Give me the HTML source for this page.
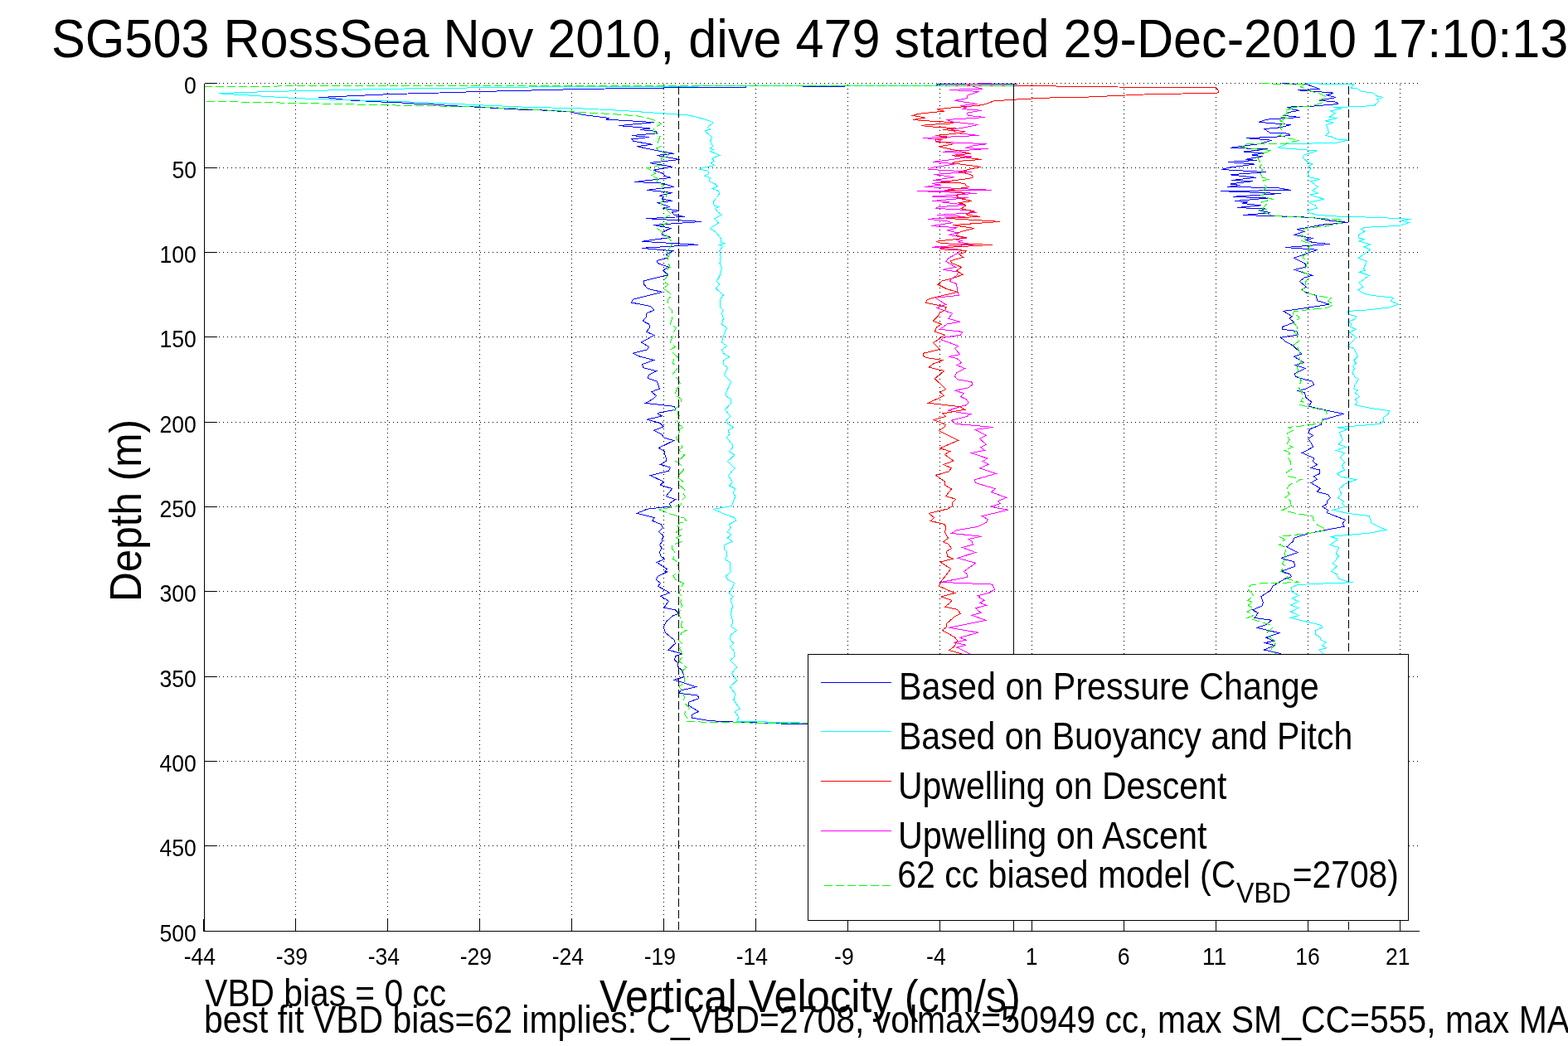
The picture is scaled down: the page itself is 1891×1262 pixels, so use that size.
<!DOCTYPE html>
<html lang="en">
<head>
<meta charset="utf-8">
<title>SG503 RossSea Nov 2010, dive 479</title>
<style>
html,body{margin:0;padding:0;background:#fff;}
body{width:1891px;height:1262px;overflow:hidden;}
svg{display:block;}
text{font-family:"Liberation Sans",Arial,Helvetica,sans-serif;fill:#000;}
.ax{stroke:#000;stroke-width:1;fill:none;shape-rendering:crispEdges;}
.grid{stroke:#000;stroke-width:1;fill:none;stroke-dasharray:1 4;stroke-dashoffset:3;shape-rendering:crispEdges;}
.gv{stroke-dasharray:1 4.006;stroke-dashoffset:3.256;}
.ln{fill:none;stroke-width:1;stroke-linejoin:miter;shape-rendering:crispEdges;}
</style>
</head>
<body>
<svg width="1891" height="1262" viewBox="0 0 1891 1262">
<rect x="0" y="0" width="1891" height="1262" fill="#fff"/>

<g id="grid"><line class="grid gv" x1="356.5" y1="100" x2="356.5" y2="1123.5"/>
<line class="grid gv" x1="467.5" y1="100" x2="467.5" y2="1123.5"/>
<line class="grid gv" x1="578.5" y1="100" x2="578.5" y2="1123.5"/>
<line class="grid gv" x1="689.5" y1="100" x2="689.5" y2="1123.5"/>
<line class="grid gv" x1="800.5" y1="100" x2="800.5" y2="1123.5"/>
<line class="grid gv" x1="911.5" y1="100" x2="911.5" y2="1123.5"/>
<line class="grid gv" x1="1022.5" y1="100" x2="1022.5" y2="1123.5"/>
<line class="grid gv" x1="1133.5" y1="100" x2="1133.5" y2="1123.5"/>
<line class="grid gv" x1="1244.5" y1="100" x2="1244.5" y2="1123.5"/>
<line class="grid gv" x1="1355.5" y1="100" x2="1355.5" y2="1123.5"/>
<line class="grid gv" x1="1466.5" y1="100" x2="1466.5" y2="1123.5"/>
<line class="grid gv" x1="1577.5" y1="100" x2="1577.5" y2="1123.5"/>
<line class="grid gv" x1="1688.5" y1="100" x2="1688.5" y2="1123.5"/>
<line class="grid" x1="247" y1="100.5" x2="1711.5" y2="100.5"/>
<line class="grid" x1="247" y1="202.5" x2="1711.5" y2="202.5"/>
<line class="grid" x1="247" y1="304.5" x2="1711.5" y2="304.5"/>
<line class="grid" x1="247" y1="406.5" x2="1711.5" y2="406.5"/>
<line class="grid" x1="247" y1="509.5" x2="1711.5" y2="509.5"/>
<line class="grid" x1="247" y1="611.5" x2="1711.5" y2="611.5"/>
<line class="grid" x1="247" y1="713.5" x2="1711.5" y2="713.5"/>
<line class="grid" x1="247" y1="816.5" x2="1711.5" y2="816.5"/>
<line class="grid" x1="247" y1="918.5" x2="1711.5" y2="918.5"/>
<line class="grid" x1="247" y1="1020.5" x2="1711.5" y2="1020.5"/></g>
<defs><clipPath id="pc"><rect x="246" y="100" width="1466" height="1024"/></clipPath></defs>
<g id="curves" clip-path="url(#pc)">
<path class="ln" stroke="#0000ff" d="M1227.0 101.5L1131.0 101.5L1129.0 103.5L1018.0 103.5L1018.0 104.5L968.0 104.5L968.0 103.5L899.0 103.5L899.0 105.5L800.0 105.5L800.0 106.5L730.0 107.0L690.0 107.7L650.0 108.8L578.0 110.5L530.0 112.0L472.7 113.5L447.0 114.7L422.0 115.8L396.0 117.0L383.8 117.3L396.5 117.9L411.0 119.8L424.0 121.1L438.8 121.9L460.0 123.0L479.0 123.6L500.0 125.1L519.0 125.7L538.0 127.2L557.0 128.3L574.0 129.1L591.0 130.0L608.0 131.0L627.0 132.1L640.0 132.2L687.6 134.9L703.5 138.6L735.2 142.5L731.2 144.1L789.1 147.6L746.3 151.6L784.4 154.9L771.7 156.5L791.5 158.4L792.3 160.8L762.2 163.5L782.8 165.5L762.2 167.9L763.7 170.3L786.7 174.3L767.7 176.6L798.6 183.0L812.9 185.4L792.3 187.4L819.7 192.5L783.6 196.5L810.5 201.2L788.3 205.2L800.2 209.6L801.8 212.3L809.0 214.4L765.3 219.5L798.6 221.1L812.9 225.5L780.4 229.3L811.0 232.5L795.5 236.1L800.2 237.7L798.6 240.1L811.0 242.5L792.3 244.5L808.2 249.6L798.6 251.2L819.0 254.4L810.5 256.0L812.9 259.1L825.6 261.5L779.3 263.6L846.2 267.4L788.3 271.5L809.0 275.3L798.6 280.5L798.6 283.7L809.0 286.4L774.1 291.3L842.0 295.3L774.1 299.3L811.0 302.8L803.4 306.7L805.8 309.9L805.8 310.8L792.3 314.6L793.1 317.5L806.6 322.2L799.4 326.2L805.8 331.7L776.4 338.9L776.4 342.8L781.2 348.4L798.6 352.4L763.7 361.1L761.4 365.0L784.4 369.5L789.1 374.1L779.6 378.1L779.3 382.5L775.3 387.3L782.8 391.2L783.6 395.2L779.6 400.3L789.1 404.4L773.3 413.1L782.5 418.2L780.4 421.8L763.4 426.3L771.7 430.1L788.3 434.5L774.8 439.6L775.3 443.6L791.5 447.5L782.8 452.3L781.2 456.3L792.3 460.2L795.5 469.0L785.6 472.9L791.5 477.4L787.5 481.3L778.5 486.4L813.7 490.4L814.5 494.3L793.1 498.3L793.9 499.9L798.6 501.9L780.4 506.2L796.3 510.6L800.5 514.9L788.3 519.3L797.9 524.1L801.0 528.1L812.6 531.6L794.4 540.4L801.3 544.4L801.8 548.7L803.4 553.5L803.1 556.6L796.3 560.3L808.6 564.2L806.6 568.1L784.4 573.6L800.2 581.2L796.3 585.2L810.5 589.5L803.4 598.7L814.5 602.6L807.4 607.4L808.6 610.9L780.4 614.2L768.2 619.3L789.1 624.5L786.7 628.3L797.1 632.5L799.4 636.7L794.4 641.5L799.4 645.9L798.6 653.4L795.5 657.4L798.2 661.3L795.5 665.8L797.1 671.6L801.5 674.3L792.3 678.5L804.5 686.7L801.0 689.9L804.7 690.0L793.6 695.1L791.2 699.4L796.5 703.5L793.6 707.3L807.6 715.2L796.5 719.3L806.6 725.2L800.7 733.1L814.2 735.8L818.7 740.3L810.3 743.5L803.1 750.6L800.3 756.9L802.3 763.3L813.0 772.0L814.5 776.3L806.0 784.2L822.2 788.7L814.5 791.8L813.4 796.1L817.7 799.8L817.4 804.5L822.2 808.5L825.3 816.4L813.4 820.4L839.6 828.7L820.6 833.1L819.3 836.3L841.5 839.1L842.8 842.6L830.1 847.4L830.9 851.3L842.5 858.5L834.1 862.4L834.8 866.1L855.5 869.6L880.9 870.9L947.5 873.2L974.5 873.2L1221.9 873.2"/>
<path class="ln" stroke="#0000ff" d="M1546.3 100.9L1574.8 101.3L1591.5 107.4L1565.3 108.8L1608.2 112.1L1600.2 114.8L1611.3 117.5L1591.5 121.2L1612.1 123.2L1613.7 125.5L1578.0 128.6L1552.6 129.1L1557.4 131.8L1566.9 133.4L1554.2 135.5L1547.9 139.4L1567.7 141.5L1527.3 144.2L1518.5 147.4L1556.6 150.5L1544.7 153.7L1524.9 155.6L1531.2 160.0L1554.2 161.2L1555.5 163.5L1536.8 165.3L1502.7 166.7L1533.6 169.2L1519.3 173.5L1501.9 175.9L1483.6 178.3L1528.8 179.9L1500.3 183.0L1524.1 185.1L1509.8 187.0L1523.3 188.6L1501.9 192.3L1516.2 193.4L1481.2 195.4L1513.0 198.1L1482.8 202.1L1473.3 204.5L1526.5 207.6L1483.6 210.8L1514.6 214.3L1485.2 217.5L1510.6 218.7L1483.6 221.9L1495.5 223.5L1480.5 225.4L1541.5 226.7L1556.6 229.5L1471.7 230.6L1544.7 233.5L1486.8 237.3L1528.8 239.1L1489.2 242.5L1505.0 243.7L1497.9 245.4L1520.9 247.8L1491.6 250.5L1528.0 252.1L1518.5 253.6L1532.0 256.8L1499.5 259.5L1538.4 260.8L1566.9 261.6L1589.1 263.2L1605.0 266.3L1625.6 268.4L1595.5 271.1L1578.0 274.3L1563.7 276.6L1573.3 279.3L1560.6 283.5L1583.6 287.4L1574.8 289.3L1582.8 292.5L1603.4 294.6L1603.4 294.5L1550.3 298.5L1589.1 301.3L1560.6 311.2L1574.1 318.3L1574.1 322.3L1561.4 325.5L1582.8 332.3L1573.3 335.0L1567.4 339.4L1575.3 346.1L1569.3 349.7L1576.4 353.5L1587.5 356.4L1588.3 362.7L1603.4 367.2L1570.1 372.3L1547.6 375.4L1558.2 381.5L1555.0 384.2L1560.6 388.9L1546.3 394.5L1546.3 397.3L1563.7 399.5L1565.3 404.0L1544.7 407.2L1551.1 412.7L1559.0 416.7L1570.1 427.0L1560.6 430.2L1572.5 437.6L1562.2 440.5L1574.5 444.4L1561.4 450.8L1562.2 454.0L1566.9 456.0L1582.8 460.3L1584.7 464.0L1574.8 469.0L1565.3 471.4L1573.3 473.8L1574.8 479.3L1581.2 484.6L1582.0 485.0L1578.0 490.1L1600.2 495.3L1620.9 499.3L1594.7 506.7L1593.1 512.3L1579.6 517.8L1578.0 522.6L1583.6 525.4L1577.7 529.4L1581.2 534.5L1583.6 539.3L1570.4 546.4L1584.4 552.7L1583.6 556.7L1588.3 560.7L1581.2 564.6L1591.5 567.0L1591.5 571.5L1584.4 574.9L1588.3 578.1L1581.2 582.6L1592.3 589.2L1588.3 593.2L1601.8 596.8L1604.2 600.6L1600.2 605.1L1600.2 607.9L1594.7 611.4L1601.8 615.4L1600.2 618.6L1622.4 627.3L1619.3 631.3L1620.9 635.2L1579.6 643.2L1560.6 649.0L1559.0 653.5L1551.8 659.8L1565.3 666.5L1545.5 673.3L1549.5 674.9L1560.6 677.7L1561.8 683.2L1545.5 689.3L1555.8 692.8L1557.4 695.9L1549.5 698.3L1535.2 707.0L1532.0 712.6L1520.9 719.7L1523.3 726.9L1522.5 730.8L1510.6 735.9L1517.3 739.6L1513.0 745.4L1533.6 748.3L1526.5 753.8L1516.2 757.5L1542.8 763.7L1526.5 769.2L1536.0 773.2L1526.0 775.6L1537.6 778.9L1524.1 784.0L1543.9 788.4L1535.2 791.9"/>
<path class="ln" stroke="#00ffff" d="M1222.0 103.5L900.0 103.8L700.0 104.5L637.7 105.0L578.4 105.8L466.0 107.3L405.0 108.8L324.6 110.5L282.0 112.0L263.9 112.6L271.7 113.5L295.0 114.7L341.5 117.7L375.4 119.4L466.3 121.9L508.6 123.6L578.4 126.8L640.0 129.5L695.5 130.6L751.1 133.5L798.6 136.7L818.5 138.2L830.4 139.0L844.7 142.5L855.8 145.7L860.0 148.1L853.4 153.6L856.6 156.0L850.2 158.1L858.9 165.5L856.6 170.3L859.7 176.6L855.8 179.0L859.7 180.6L856.6 183.0L861.3 184.2L867.7 187.3L858.9 190.9L861.3 194.1L857.3 196.9L861.6 199.6L846.2 202.8L844.2 204.4L853.4 206.0L855.0 209.2L850.2 212.3L856.6 214.7L855.0 218.7L862.1 221.8L865.3 225.0L858.9 227.4L865.3 229.8L868.0 233.0L864.5 238.5L860.2 243.3L861.3 248.0L866.9 249.6L862.1 251.2L866.1 256.0L870.4 259.1L862.1 263.6L866.5 269.1L856.2 275.3L863.7 280.5L869.2 287.7L870.0 292.4L873.7 293.6L867.7 295.6L871.6 297.2L867.7 302.8L869.2 309.9L868.0 317.5L870.4 323.0L868.5 331.7L864.5 339.3L867.7 343.2L863.4 348.1L872.4 356.0L868.5 361.9L868.5 370.6L872.4 374.6L870.4 378.5L872.4 384.1L870.4 391.2L876.7 395.5L873.2 403.1L870.4 413.0L876.7 417.4L870.4 422.2L873.2 426.9L879.6 430.4L872.4 434.8L872.4 439.6L877.7 443.6L873.2 452.3L881.6 460.7L875.3 474.5L875.3 477.7L881.6 481.3L881.6 486.4L874.5 494.3L878.8 499.9L880.8 501.9L876.4 507.1L878.0 511.4L884.6 515.4L878.0 519.3L879.9 523.3L876.4 528.1L883.5 536.8L883.5 540.0L879.6 544.7L885.9 549.0L877.5 556.6L885.9 564.6L878.3 574.1L883.5 581.7L879.6 586.0L886.7 589.6L884.3 594.7L886.7 598.7L882.3 610.6L860.5 614.2L873.2 620.1L885.9 624.5L887.5 628.3L879.6 632.5L881.1 636.7L877.5 642.0L881.6 645.2L877.5 649.1L883.5 653.4L873.2 657.4L874.0 662.9L876.7 665.8L876.4 671.6L874.5 674.8L880.8 678.5L880.8 687.5L881.6 689.9L881.3 690.0L875.3 695.1L877.7 699.4L885.6 703.5L883.2 709.3L879.3 715.7L884.0 719.7L881.3 723.6L883.7 730.8L881.3 740.3L883.7 749.8L882.4 756.6L888.5 760.4L881.6 765.7L880.4 771.2L884.8 776.5L880.4 780.3L884.8 784.4L885.9 792.6L880.4 796.6L888.8 804.5L882.4 812.5L888.8 820.9L880.4 828.7L886.9 837.1L884.8 844.2L892.4 855.3L886.4 858.5L890.9 865.3L888.8 870.4L953.8 871.5L974.5 872.4L1221.9 872.4"/>
<path class="ln" stroke="#00ffff" d="M1574.8 100.9L1632.8 101.3L1629.6 106.1L1636.7 106.9L1641.5 110.1L1655.8 112.1L1659.7 115.6L1668.0 117.5L1660.5 119.6L1662.9 122.3L1657.3 127.2L1644.7 128.3L1608.2 129.6L1617.7 131.2L1605.0 133.9L1610.5 136.6L1603.4 141.0L1612.6 142.6L1598.6 145.8L1608.2 148.1L1599.4 150.5L1601.0 155.3L1602.6 160.0L1598.6 163.5L1605.0 164.8L1612.9 168.0L1625.9 169.2L1611.3 172.3L1579.6 173.1L1551.1 174.0L1541.5 178.0L1551.1 179.1L1588.3 181.8L1581.2 184.6L1573.3 186.7L1571.4 190.2L1578.0 196.5L1582.8 198.1L1578.0 200.5L1581.2 202.9L1577.2 209.2L1579.6 214.0L1591.5 216.4L1580.4 218.7L1589.1 225.4L1582.8 229.8L1589.1 233.3L1579.6 234.9L1596.3 240.2L1578.8 244.4L1586.7 248.1L1588.3 251.3L1576.8 254.1L1579.6 256.8L1587.5 259.2L1612.9 261.1L1662.1 262.4L1701.8 264.4L1689.1 266.3L1699.4 268.4L1687.5 272.4L1646.2 274.3L1640.7 276.6L1646.2 279.0L1638.3 283.8L1639.1 287.0L1645.4 288.9L1639.1 290.9L1652.6 294.9L1652.6 295.0L1644.7 297.7L1652.6 301.3L1638.3 311.2L1648.1 315.1L1644.7 323.9L1646.2 326.2L1639.1 328.2L1651.3 332.3L1639.1 341.3L1644.2 346.1L1637.5 349.7L1644.7 354.0L1654.2 356.4L1681.1 359.2L1677.2 363.1L1686.7 367.2L1674.8 371.0L1651.0 373.8L1625.6 375.4L1626.4 379.4L1635.6 381.5L1634.3 384.9L1625.6 388.4L1629.6 390.5L1628.8 394.5L1635.6 397.3L1627.2 400.8L1635.6 407.2L1625.6 417.5L1632.8 420.6L1637.5 430.2L1632.8 434.9L1635.5 438.1L1631.5 441.3L1633.5 444.4L1631.2 450.0L1634.3 455.5L1638.6 457.1L1633.5 465.1L1632.8 469.0L1637.5 470.9L1634.3 473.8L1639.6 478.5L1634.3 481.7L1636.7 484.6L1636.7 485.0L1634.3 488.5L1651.0 492.1L1675.6 495.6L1674.0 499.6L1668.5 503.6L1668.5 508.3L1663.7 511.5L1625.6 514.7L1612.9 515.9L1625.6 517.8L1615.3 521.8L1619.3 530.5L1614.5 536.1L1623.2 539.3L1611.3 543.5L1621.6 546.4L1616.1 551.9L1621.6 557.5L1618.5 562.3L1621.6 567.0L1612.6 571.5L1617.7 575.3L1635.5 578.6L1620.9 584.5L1615.3 590.0L1617.7 596.4L1613.4 600.3L1620.9 605.1L1618.5 607.5L1622.4 611.1L1608.2 615.4L1625.6 619.4L1651.0 622.5L1654.2 631.3L1671.6 639.5L1651.0 643.2L1604.2 647.4L1613.7 650.3L1604.2 657.4L1614.5 660.6L1611.3 667.8L1614.5 670.9L1611.3 674.6L1612.1 675.0L1607.4 679.8L1612.1 683.6L1605.5 689.3L1612.1 692.8L1614.5 698.3L1625.6 701.8L1632.0 702.6L1598.6 703.9L1565.3 705.5L1557.4 708.6L1557.4 713.4L1566.1 718.5L1558.2 722.1L1566.1 725.6L1556.6 730.0L1566.1 733.5L1556.6 738.0L1566.1 742.7L1556.6 745.4L1579.6 751.0L1593.1 754.2L1594.7 757.0L1586.0 761.0L1586.0 764.9L1592.3 769.2L1593.1 772.1L1599.4 774.9L1594.7 778.9L1599.4 781.9L1590.7 784.0L1595.5 788.4L1598.6 791.9"/>
<path class="ln" stroke="#ff00ff" d="M1195.8 100.7L1165.3 101.3L1174.2 104.5L1185.0 107.3L1145.0 108.3L1180.6 110.5L1166.0 115.3L1166.6 118.5L1151.4 121.4L1178.7 125.5L1157.7 127.7L1165.3 129.9L1160.3 131.6L1183.7 133.3L1166.0 136.2L1167.9 139.4L1187.9 141.6L1141.2 144.5L1148.8 147.0L1179.9 150.5L1165.3 153.4L1147.6 156.6L1153.9 160.6L1180.6 163.5L1113.3 166.5L1136.2 168.6L1131.1 171.2L1189.8 173.7L1171.7 176.2L1164.1 178.8L1192.0 179.4L1137.4 183.2L1170.4 185.4L1152.6 187.0L1171.7 188.9L1147.6 192.5L1125.4 195.3L1152.6 197.8L1122.2 202.6L1120.3 204.4L1171.7 207.3L1126.0 210.5L1151.4 213.7L1125.4 217.5L1148.8 218.7L1124.1 221.5L1134.9 223.2L1114.6 225.5L1195.8 229.3L1106.3 230.5L1178.0 233.3L1124.1 237.1L1167.9 238.7L1124.1 242.5L1145.0 243.5L1137.4 244.1L1165.3 247.3L1131.1 249.8L1129.2 251.4L1169.1 253.6L1174.2 254.9L1169.1 255.1L1178.0 256.3L1130.4 259.5L1164.1 261.4L1119.0 264.3L1141.2 266.5L1148.8 268.7L1123.1 272.6L1154.6 274.7L1142.5 277.9L1155.2 281.1L1144.4 283.3L1156.5 285.5L1166.0 287.1L1151.4 288.7L1159.0 290.6L1155.8 291.9L1174.2 295.1L1124.1 298.2L1159.6 301.4L1155.2 305.2L1143.8 311.6L1140.6 315.4L1152.6 322.3L1137.2 325.5L1155.8 328.1L1153.9 332.5L1147.6 336.3L1145.3 339.5L1153.7 342.4L1154.6 351.5L1156.7 356.4L1127.9 359.1L1140.6 367.4L1134.9 369.3L1130.4 371.6L1148.5 378.2L1143.8 384.3L1157.7 388.3L1142.5 390.9L1133.6 397.2L1160.9 400.4L1158.4 404.2L1137.4 407.4L1134.9 409.9L1155.8 417.3L1151.6 420.2L1157.7 427.6L1144.4 430.4L1153.9 432.3L1159.6 437.4L1153.9 440.5L1163.8 444.6L1153.9 449.4L1151.4 453.9L1154.6 457.7L1171.7 460.8L1173.0 464.0L1167.9 467.8L1151.4 471.3L1162.5 474.4L1158.7 478.6L1165.3 481.8L1167.9 485.6L1165.3 488.8L1157.7 490.7L1143.1 495.4L1160.3 498.3L1170.8 499.6L1165.3 502.7L1147.6 507.2L1152.6 511.4L1197.7 515.4L1176.1 518.3L1189.5 525.2L1181.6 529.4L1189.5 536.4L1182.5 539.8L1187.6 543.3L1171.4 546.5L1190.7 553.1L1185.0 556.7L1192.6 560.1L1181.8 564.9L1201.5 571.4L1175.5 578.7L1176.5 582.6L1200.6 589.8L1195.5 593.6L1213.6 600.4L1203.7 604.4L1206.6 607.6L1194.3 611.4L1215.9 615.2L1184.4 622.6L1191.4 626.6L1189.5 630.4L1179.3 635.5L1153.3 639.7L1147.6 643.4L1183.7 647.3L1167.9 650.5L1172.3 653.3L1173.3 657.1L1160.3 660.5L1176.5 666.4L1155.4 673.3L1176.5 679.3L1162.5 689.5L1166.0 692.6L1166.4 696.4L1134.9 702.4L1196.8 705.1L1199.6 711.0L1193.3 715.1L1179.3 718.6L1181.8 719.9L1179.9 720.0L1186.9 724.3L1181.6 727.2L1189.5 730.4L1176.5 733.8L1183.1 739.5L1172.3 742.3L1188.6 748.4L1144.4 757.3L1179.7 763.2L1157.7 769.3L1165.3 772.2L1150.4 775.3L1164.7 778.2L1153.7 781.1L1169.8 788.7L1174.2 791.5"/>
<path class="ln" stroke="#ff0000" d="M1140.0 103.5L1222.5 103.5L1273.2 103.5L1274.5 104.5L1466.1 105.8L1468.9 108.3L1469.3 111.5L1467.4 112.1L1379.8 114.0L1300.0 117.6L1270.7 117.8L1250.4 118.7L1230.1 119.7L1211.0 121.0L1199.6 121.4L1188.2 125.8L1179.3 127.4L1164.1 128.6L1147.6 129.9L1130.4 131.8L1138.7 134.3L1123.5 135.6L1107.0 137.5L1101.2 139.4L1115.8 142.2L1101.2 144.5L1110.8 145.4L1127.3 146.4L1150.1 147.7L1147.6 148.9L1119.7 150.5L1111.4 151.5L1119.7 152.7L1152.6 154.7L1137.4 156.6L1163.4 158.5L1162.2 159.7L1148.8 161.6L1128.5 163.5L1141.2 164.8L1141.2 166.1L1127.9 168.0L1128.5 170.5L1138.7 171.8L1145.0 172.4L1150.1 173.7L1132.3 176.9L1171.1 185.4L1147.6 187.4L1161.5 189.6L1183.7 192.5L1161.5 194.0L1147.6 196.5L1182.5 201.4L1169.1 204.1L1157.7 207.3L1165.3 209.2L1171.7 211.1L1173.6 213.7L1167.9 215.6L1151.4 217.5L1133.6 220.0L1156.5 220.6L1164.1 221.9L1165.3 224.5L1169.1 225.7L1138.7 229.5L1160.9 232.1L1162.8 233.3L1152.6 235.9L1159.0 239.7L1172.3 242.5L1155.2 244.8L1161.5 245.4L1164.7 247.9L1159.0 251.7L1174.2 254.9L1174.2 255.1L1165.3 258.9L1181.8 261.4L1141.2 263.3L1206.0 267.4L1148.8 271.6L1174.9 275.4L1155.8 280.5L1153.3 284.3L1166.0 286.8L1151.4 288.7L1129.2 291.2L1136.2 293.8L1197.1 295.3L1134.9 298.9L1134.9 300.8L1165.3 302.3L1164.1 304.3L1156.5 306.5L1161.5 310.3L1146.3 314.7L1147.6 317.3L1159.6 322.3L1153.3 326.8L1161.5 331.2L1147.6 336.3L1136.2 338.8L1131.1 343.3L1141.2 348.4L1154.6 352.5L1128.5 358.5L1118.4 361.4L1116.5 365.2L1133.6 368.7L1141.2 370.6L1140.0 374.1L1133.6 376.9L1131.1 381.4L1125.4 387.3L1135.5 391.1L1129.8 394.7L1127.3 400.0L1139.3 404.2L1131.1 409.9L1131.1 410.1L1125.4 413.6L1133.6 421.5L1113.3 426.3L1113.9 429.7L1117.7 431.7L1137.4 434.6L1125.4 439.0L1120.3 443.1L1138.7 447.5L1127.3 456.7L1140.6 469.7L1133.6 473.3L1138.7 477.3L1119.4 486.2L1157.7 490.7L1163.4 494.2L1136.8 498.9L1140.6 502.5L1126.0 506.5L1140.6 512.2L1138.7 515.4L1132.3 519.6L1155.8 531.3L1133.6 540.8L1145.7 544.6L1139.3 548.4L1149.9 556.0L1138.1 560.5L1147.6 564.9L1146.9 565.1L1144.4 568.9L1128.5 573.3L1139.3 580.9L1139.7 585.4L1147.6 589.8L1140.6 598.5L1152.6 602.3L1148.6 606.3L1148.2 610.8L1143.1 613.9L1120.3 619.4L1126.6 624.7L1122.2 628.5L1139.3 632.6L1140.6 636.2L1139.7 642.5L1143.5 649.5L1137.4 653.7L1143.8 656.5L1147.6 661.5L1141.6 665.1L1142.5 671.1L1149.5 674.2L1133.9 678.0L1146.7 686.3L1142.5 692.0L1134.9 701.5L1132.3 707.2L1151.4 715.5L1134.9 719.9L1135.5 720.0L1147.6 724.3L1146.3 726.8L1139.7 732.1L1154.6 735.4L1158.4 740.5L1151.4 743.9L1141.9 752.2L1141.2 756.6L1136.5 760.4L1151.4 768.7L1154.6 773.1L1150.7 780.1L1144.7 784.6L1159.6 788.7L1161.5 791.5"/>
<path class="ln" stroke="#00ff00" stroke-dasharray="10 4" d="M1222.0 103.5L640.0 103.5L430.0 103.8L246.0 104.2L150.0 108.0L120.0 113.0L150.0 118.0L246.0 122.1L371.0 124.7L466.0 126.8L578.0 128.9L640.0 131.9L687.6 134.6L741.5 137.8L770.1 140.1L784.4 143.3L793.9 146.8L797.1 149.3L789.1 154.9L787.5 158.4L796.3 164.7L793.1 171.9L797.1 176.6L791.5 179.0L806.6 187.7L797.1 190.9L798.6 198.8L780.4 202.8L790.7 209.2L784.4 212.3L792.3 214.7L792.3 219.5L800.2 223.4L797.1 228.2L805.0 233.0L801.8 240.1L796.3 244.8L804.2 252.8L809.8 259.1L800.2 263.1L804.2 269.1L792.3 275.3L805.0 285.3L811.3 293.2L808.2 298.8L805.0 302.8L808.2 305.9L805.8 309.9L805.8 311.1L805.8 316.7L808.2 322.2L803.4 326.2L805.8 331.7L800.2 339.3L805.8 343.2L800.2 348.1L805.0 351.6L810.5 356.0L805.0 361.9L805.8 369.8L810.5 374.6L810.5 384.1L808.2 391.7L815.3 395.2L812.1 401.5L810.5 407.9L808.2 413.0L811.3 415.5L814.5 418.5L808.2 421.8L810.5 424.5L814.5 428.5L817.7 430.9L812.9 432.9L811.3 438.0L816.1 442.0L816.1 445.2L811.3 452.0L817.7 457.5L820.5 462.6L815.3 471.3L814.5 476.9L821.6 481.3L820.5 488.0L812.9 494.8L818.5 497.5L816.9 499.9L819.3 501.9L815.3 506.3L817.7 509.0L819.3 513.0L824.8 515.4L820.1 517.3L819.3 521.7L815.3 528.1L817.7 531.6L822.4 536.0L822.4 540.0L819.3 542.4L820.9 546.3L825.6 549.0L820.9 553.5L815.3 556.6L824.0 563.0L824.0 567.4L817.7 573.6L817.7 576.5L824.0 581.2L819.3 585.2L825.6 590.7L823.2 593.9L826.4 599.5L822.4 604.2L820.9 609.8L805.0 613.0L795.5 615.0L801.0 616.9L805.0 619.3L814.5 621.7L819.3 623.6L824.8 624.8L828.0 628.8L819.3 631.2L817.7 635.2L822.4 638.3L815.3 642.0L820.9 646.3L816.1 648.6L822.4 653.4L816.1 655.8L810.5 657.4L810.5 662.1L813.7 665.8L813.7 670.1L811.3 674.3L816.9 678.0L819.3 689.1L819.0 690.0L811.8 694.6L815.0 699.4L824.5 703.8L821.4 708.6L819.0 715.7L822.5 719.7L820.6 726.0L822.5 730.8L820.3 735.5L818.7 741.9L822.5 749.0L821.4 756.2L827.7 760.4L822.2 763.3L817.7 771.2L822.2 776.5L819.8 782.3L822.2 788.2L824.5 792.6L820.6 795.0L819.8 798.2L827.7 805.3L822.2 810.1L825.3 816.4L826.1 823.6L819.0 828.3L823.7 834.7L825.3 841.0L824.5 846.6L831.7 854.5L827.7 857.7L825.3 860.9L827.7 864.8L830.1 868.8L828.5 870.4L858.6 871.5L974.5 872.8L1221.9 872.8"/>
<path class="ln" stroke="#00ff00" stroke-dasharray="10 4" d="M1520.9 100.9L1574.8 101.3L1568.5 104.8L1573.3 106.4L1578.0 109.6L1590.7 112.5L1600.2 117.2L1592.3 120.4L1597.1 122.3L1593.1 124.3L1582.8 127.8L1554.2 129.6L1557.4 131.2L1548.7 133.6L1553.4 135.5L1549.5 138.6L1543.9 141.0L1553.4 142.6L1543.9 145.8L1549.5 148.1L1543.9 151.3L1544.7 155.3L1546.3 160.8L1543.1 163.5L1555.0 167.2L1566.9 169.2L1551.1 173.1L1503.5 173.5L1497.1 177.5L1514.6 179.9L1533.6 181.5L1519.3 186.2L1516.2 188.6L1518.5 194.2L1522.5 197.3L1519.3 201.3L1522.5 204.5L1520.1 209.2L1522.5 214.0L1531.2 216.4L1523.3 217.5L1525.7 223.5L1528.0 225.9L1523.3 229.8L1526.5 233.0L1520.9 235.4L1528.8 238.6L1535.2 240.2L1520.9 244.1L1527.3 246.5L1522.5 251.3L1528.0 252.1L1518.8 254.1L1522.5 256.0L1535.2 260.0L1566.9 261.9L1619.3 265.1L1611.3 267.1L1619.3 268.7L1598.6 273.0L1573.3 275.4L1569.3 283.0L1574.8 287.8L1569.3 290.5L1581.2 294.1L1581.2 295.0L1578.0 298.5L1579.6 301.3L1578.0 304.8L1571.7 308.8L1571.7 312.0L1577.2 315.1L1574.8 323.1L1570.1 327.8L1578.0 331.0L1578.0 335.8L1574.1 340.5L1574.8 346.1L1569.3 349.7L1576.4 353.5L1587.5 356.7L1599.4 358.5L1605.0 359.6L1601.8 363.5L1608.2 367.2L1600.2 371.5L1576.4 373.8L1560.6 375.7L1559.0 380.2L1565.3 381.0L1566.9 384.2L1559.8 388.9L1564.5 394.5L1564.5 398.4L1560.6 400.8L1565.3 405.6L1566.9 411.1L1559.8 416.7L1565.3 419.8L1567.7 426.2L1566.9 432.5L1569.3 438.1L1563.7 441.3L1565.3 446.0L1564.5 452.4L1569.3 458.7L1566.4 467.4L1569.3 473.0L1571.7 479.3L1568.5 484.6L1571.7 485.0L1567.7 488.5L1578.0 490.9L1599.4 495.6L1600.2 498.8L1595.5 504.3L1593.9 509.9L1578.0 513.1L1553.4 515.5L1560.6 518.6L1552.6 522.6L1551.8 525.8L1555.0 530.5L1551.8 536.1L1559.0 539.3L1549.5 543.5L1555.8 546.4L1552.6 550.4L1556.6 557.5L1557.4 566.2L1551.1 570.2L1552.6 574.6L1562.2 576.5L1569.3 578.6L1555.8 584.5L1551.8 590.0L1555.0 596.4L1550.3 600.3L1555.8 603.5L1557.4 610.6L1546.3 615.4L1563.7 619.7L1582.8 622.5L1584.4 628.1L1589.1 633.6L1598.6 638.4L1598.6 640.0L1578.0 643.5L1543.1 647.4L1549.5 651.1L1543.1 657.4L1551.8 660.6L1549.5 667.8L1551.1 674.6L1549.5 675.0L1546.3 680.1L1549.5 682.5L1544.7 689.3L1551.8 692.8L1552.6 698.3L1557.4 699.9L1566.9 702.6L1520.9 703.9L1508.2 706.2L1504.3 711.0L1509.8 715.8L1511.4 718.9L1505.0 724.5L1511.4 727.2L1505.0 730.0L1511.4 734.0L1504.3 738.0L1511.4 742.7L1504.3 745.4L1519.3 749.9L1533.6 754.6L1535.2 757.0L1528.8 762.6L1528.8 766.5L1533.6 770.5L1539.6 774.9L1536.0 778.9L1532.8 784.0L1538.4 788.4L1541.5 791.9"/>
</g>
<line class="ax" x1="1222.5" y1="100.5" x2="1222.5" y2="1123.5"/>
<line class="ax" stroke-dasharray="10 4" stroke-dashoffset="10" x1="818.5" y1="100" x2="818.5" y2="1123.5"/>
<line class="ax" stroke-dasharray="10 4" stroke-dashoffset="10" x1="1626.5" y1="100" x2="1626.5" y2="1123.5"/>
<g id="axes"><path class="ax" d="M246.5 100.5V1123.5H1711.5"/>
<line class="ax" x1="245.5" y1="1123.5" x2="245.5" y2="1108.5"/>
<line class="ax" x1="356.5" y1="1123.5" x2="356.5" y2="1108.5"/>
<line class="ax" x1="467.5" y1="1123.5" x2="467.5" y2="1108.5"/>
<line class="ax" x1="578.5" y1="1123.5" x2="578.5" y2="1108.5"/>
<line class="ax" x1="689.5" y1="1123.5" x2="689.5" y2="1108.5"/>
<line class="ax" x1="800.5" y1="1123.5" x2="800.5" y2="1108.5"/>
<line class="ax" x1="911.5" y1="1123.5" x2="911.5" y2="1108.5"/>
<line class="ax" x1="1022.5" y1="1123.5" x2="1022.5" y2="1108.5"/>
<line class="ax" x1="1133.5" y1="1123.5" x2="1133.5" y2="1108.5"/>
<line class="ax" x1="1244.5" y1="1123.5" x2="1244.5" y2="1108.5"/>
<line class="ax" x1="1355.5" y1="1123.5" x2="1355.5" y2="1108.5"/>
<line class="ax" x1="1466.5" y1="1123.5" x2="1466.5" y2="1108.5"/>
<line class="ax" x1="1577.5" y1="1123.5" x2="1577.5" y2="1108.5"/>
<line class="ax" x1="1688.5" y1="1123.5" x2="1688.5" y2="1108.5"/>
<line class="ax" x1="246.5" y1="100.5" x2="261.5" y2="100.5"/>
<line class="ax" x1="246.5" y1="202.5" x2="261.5" y2="202.5"/>
<line class="ax" x1="246.5" y1="304.5" x2="261.5" y2="304.5"/>
<line class="ax" x1="246.5" y1="406.5" x2="261.5" y2="406.5"/>
<line class="ax" x1="246.5" y1="509.5" x2="261.5" y2="509.5"/>
<line class="ax" x1="246.5" y1="611.5" x2="261.5" y2="611.5"/>
<line class="ax" x1="246.5" y1="713.5" x2="261.5" y2="713.5"/>
<line class="ax" x1="246.5" y1="816.5" x2="261.5" y2="816.5"/>
<line class="ax" x1="246.5" y1="918.5" x2="261.5" y2="918.5"/>
<line class="ax" x1="246.5" y1="1020.5" x2="261.5" y2="1020.5"/>
<line class="ax" x1="246.5" y1="1123.5" x2="261.5" y2="1123.5"/></g>
<g id="ticklabels"><text x="221.7" y="1164.0" font-size="28.7" textLength="38.4" lengthAdjust="spacingAndGlyphs">-44</text>
<text x="332.7" y="1164.0" font-size="28.7" textLength="38.4" lengthAdjust="spacingAndGlyphs">-39</text>
<text x="443.7" y="1164.0" font-size="28.7" textLength="38.4" lengthAdjust="spacingAndGlyphs">-34</text>
<text x="554.7" y="1164.0" font-size="28.7" textLength="38.4" lengthAdjust="spacingAndGlyphs">-29</text>
<text x="665.7" y="1164.0" font-size="28.7" textLength="38.4" lengthAdjust="spacingAndGlyphs">-24</text>
<text x="776.7" y="1164.0" font-size="28.7" textLength="38.4" lengthAdjust="spacingAndGlyphs">-19</text>
<text x="887.7" y="1164.0" font-size="28.7" textLength="38.4" lengthAdjust="spacingAndGlyphs">-14</text>
<text x="1006.1" y="1164.0" font-size="28.7" textLength="23.6" lengthAdjust="spacingAndGlyphs">-9</text>
<text x="1117.1" y="1164.0" font-size="28.7" textLength="23.6" lengthAdjust="spacingAndGlyphs">-4</text>
<text x="1236.7" y="1164.0" font-size="28.7" textLength="14.8" lengthAdjust="spacingAndGlyphs">1</text>
<text x="1347.7" y="1164.0" font-size="28.7" textLength="14.8" lengthAdjust="spacingAndGlyphs">6</text>
<text x="1449.8" y="1164.0" font-size="28.7" textLength="29.5" lengthAdjust="spacingAndGlyphs">11</text>
<text x="1562.3" y="1164.0" font-size="28.7" textLength="29.5" lengthAdjust="spacingAndGlyphs">16</text>
<text x="1670.9" y="1164.0" font-size="28.7" textLength="29.5" lengthAdjust="spacingAndGlyphs">21</text>
<text x="222.1" y="112.8" font-size="28.7" textLength="14.8" lengthAdjust="spacingAndGlyphs">0</text>
<text x="207.4" y="214.8" font-size="28.7" textLength="29.5" lengthAdjust="spacingAndGlyphs">50</text>
<text x="192.6" y="316.8" font-size="28.7" textLength="44.3" lengthAdjust="spacingAndGlyphs">100</text>
<text x="192.6" y="418.8" font-size="28.7" textLength="44.3" lengthAdjust="spacingAndGlyphs">150</text>
<text x="192.6" y="521.8" font-size="28.7" textLength="44.3" lengthAdjust="spacingAndGlyphs">200</text>
<text x="192.6" y="623.8" font-size="28.7" textLength="44.3" lengthAdjust="spacingAndGlyphs">250</text>
<text x="192.6" y="725.8" font-size="28.7" textLength="44.3" lengthAdjust="spacingAndGlyphs">300</text>
<text x="192.6" y="828.8" font-size="28.7" textLength="44.3" lengthAdjust="spacingAndGlyphs">350</text>
<text x="192.6" y="930.8" font-size="28.7" textLength="44.3" lengthAdjust="spacingAndGlyphs">400</text>
<text x="192.6" y="1032.8" font-size="28.7" textLength="44.3" lengthAdjust="spacingAndGlyphs">450</text>
<text x="192.6" y="1135.8" font-size="28.7" textLength="44.3" lengthAdjust="spacingAndGlyphs">500</text></g>
<text id="title" x="62" y="68.7" font-size="64.8" textLength="1829.2" lengthAdjust="spacingAndGlyphs">SG503 RossSea Nov 2010, dive 479 started 29-Dec-2010 17:10:13</text>
<text id="ylabel" transform="translate(169.8 726.1) rotate(-90)" font-size="54.5" textLength="220" lengthAdjust="spacingAndGlyphs">Depth (m)</text>
<text id="note1" x="247.3" y="1214.4" font-size="45.4" textLength="290.8" lengthAdjust="spacingAndGlyphs">VBD bias = 0 cc</text>
<text id="xlabel" x="723.1" y="1220.8" font-size="54.6" textLength="507.7" lengthAdjust="spacingAndGlyphs">Vertical Velocity (cm/s)</text>
<text id="note2" x="246" y="1245.5" font-size="45.4" textLength="1647.1" lengthAdjust="spacingAndGlyphs">best fit VBD bias=62 implies: C_VBD=2708, volmax=50949 cc, max SM_CC=555, max MA</text>
<g id="legend"><rect x="974.5" y="789.5" width="724" height="321" fill="#fff" stroke="#000" stroke-width="1" shape-rendering="crispEdges"/>
<line class="ln" stroke="#0000ff" x1="990" y1="823.5" x2="1075" y2="823.5"/>
<text x="1084.0" y="843.9" font-size="46" textLength="506.7" lengthAdjust="spacingAndGlyphs">Based on Pressure Change</text>
<line class="ln" stroke="#00ffff" x1="990" y1="882.5" x2="1075" y2="882.5"/>
<text x="1084.0" y="904.2" font-size="46" textLength="547.2" lengthAdjust="spacingAndGlyphs">Based on Buoyancy and Pitch</text>
<line class="ln" stroke="#ff0000" x1="990" y1="942.5" x2="1075" y2="942.5"/>
<text x="1082.9" y="964.0" font-size="46" textLength="396.4" lengthAdjust="spacingAndGlyphs">Upwelling on Descent</text>
<line class="ln" stroke="#ff00ff" x1="990" y1="1002.5" x2="1075" y2="1002.5"/>
<text x="1082.9" y="1024.1" font-size="46" textLength="372.6" lengthAdjust="spacingAndGlyphs">Upwelling on Ascent</text>
<line class="ln" stroke="#00ff00" stroke-dasharray="10 4" x1="994" y1="1068.5" x2="1075" y2="1068.5"/>
<text x="1082.2" y="1071" font-size="46" textLength="408.1" lengthAdjust="spacingAndGlyphs">62 cc biased model (C</text>
<text x="1490.9" y="1089.2" font-size="34.4" textLength="66" lengthAdjust="spacingAndGlyphs">VBD</text>
<text x="1558.7" y="1071" font-size="46" textLength="128.2" lengthAdjust="spacingAndGlyphs">=2708)</text></g>
</svg>
</body>
</html>
